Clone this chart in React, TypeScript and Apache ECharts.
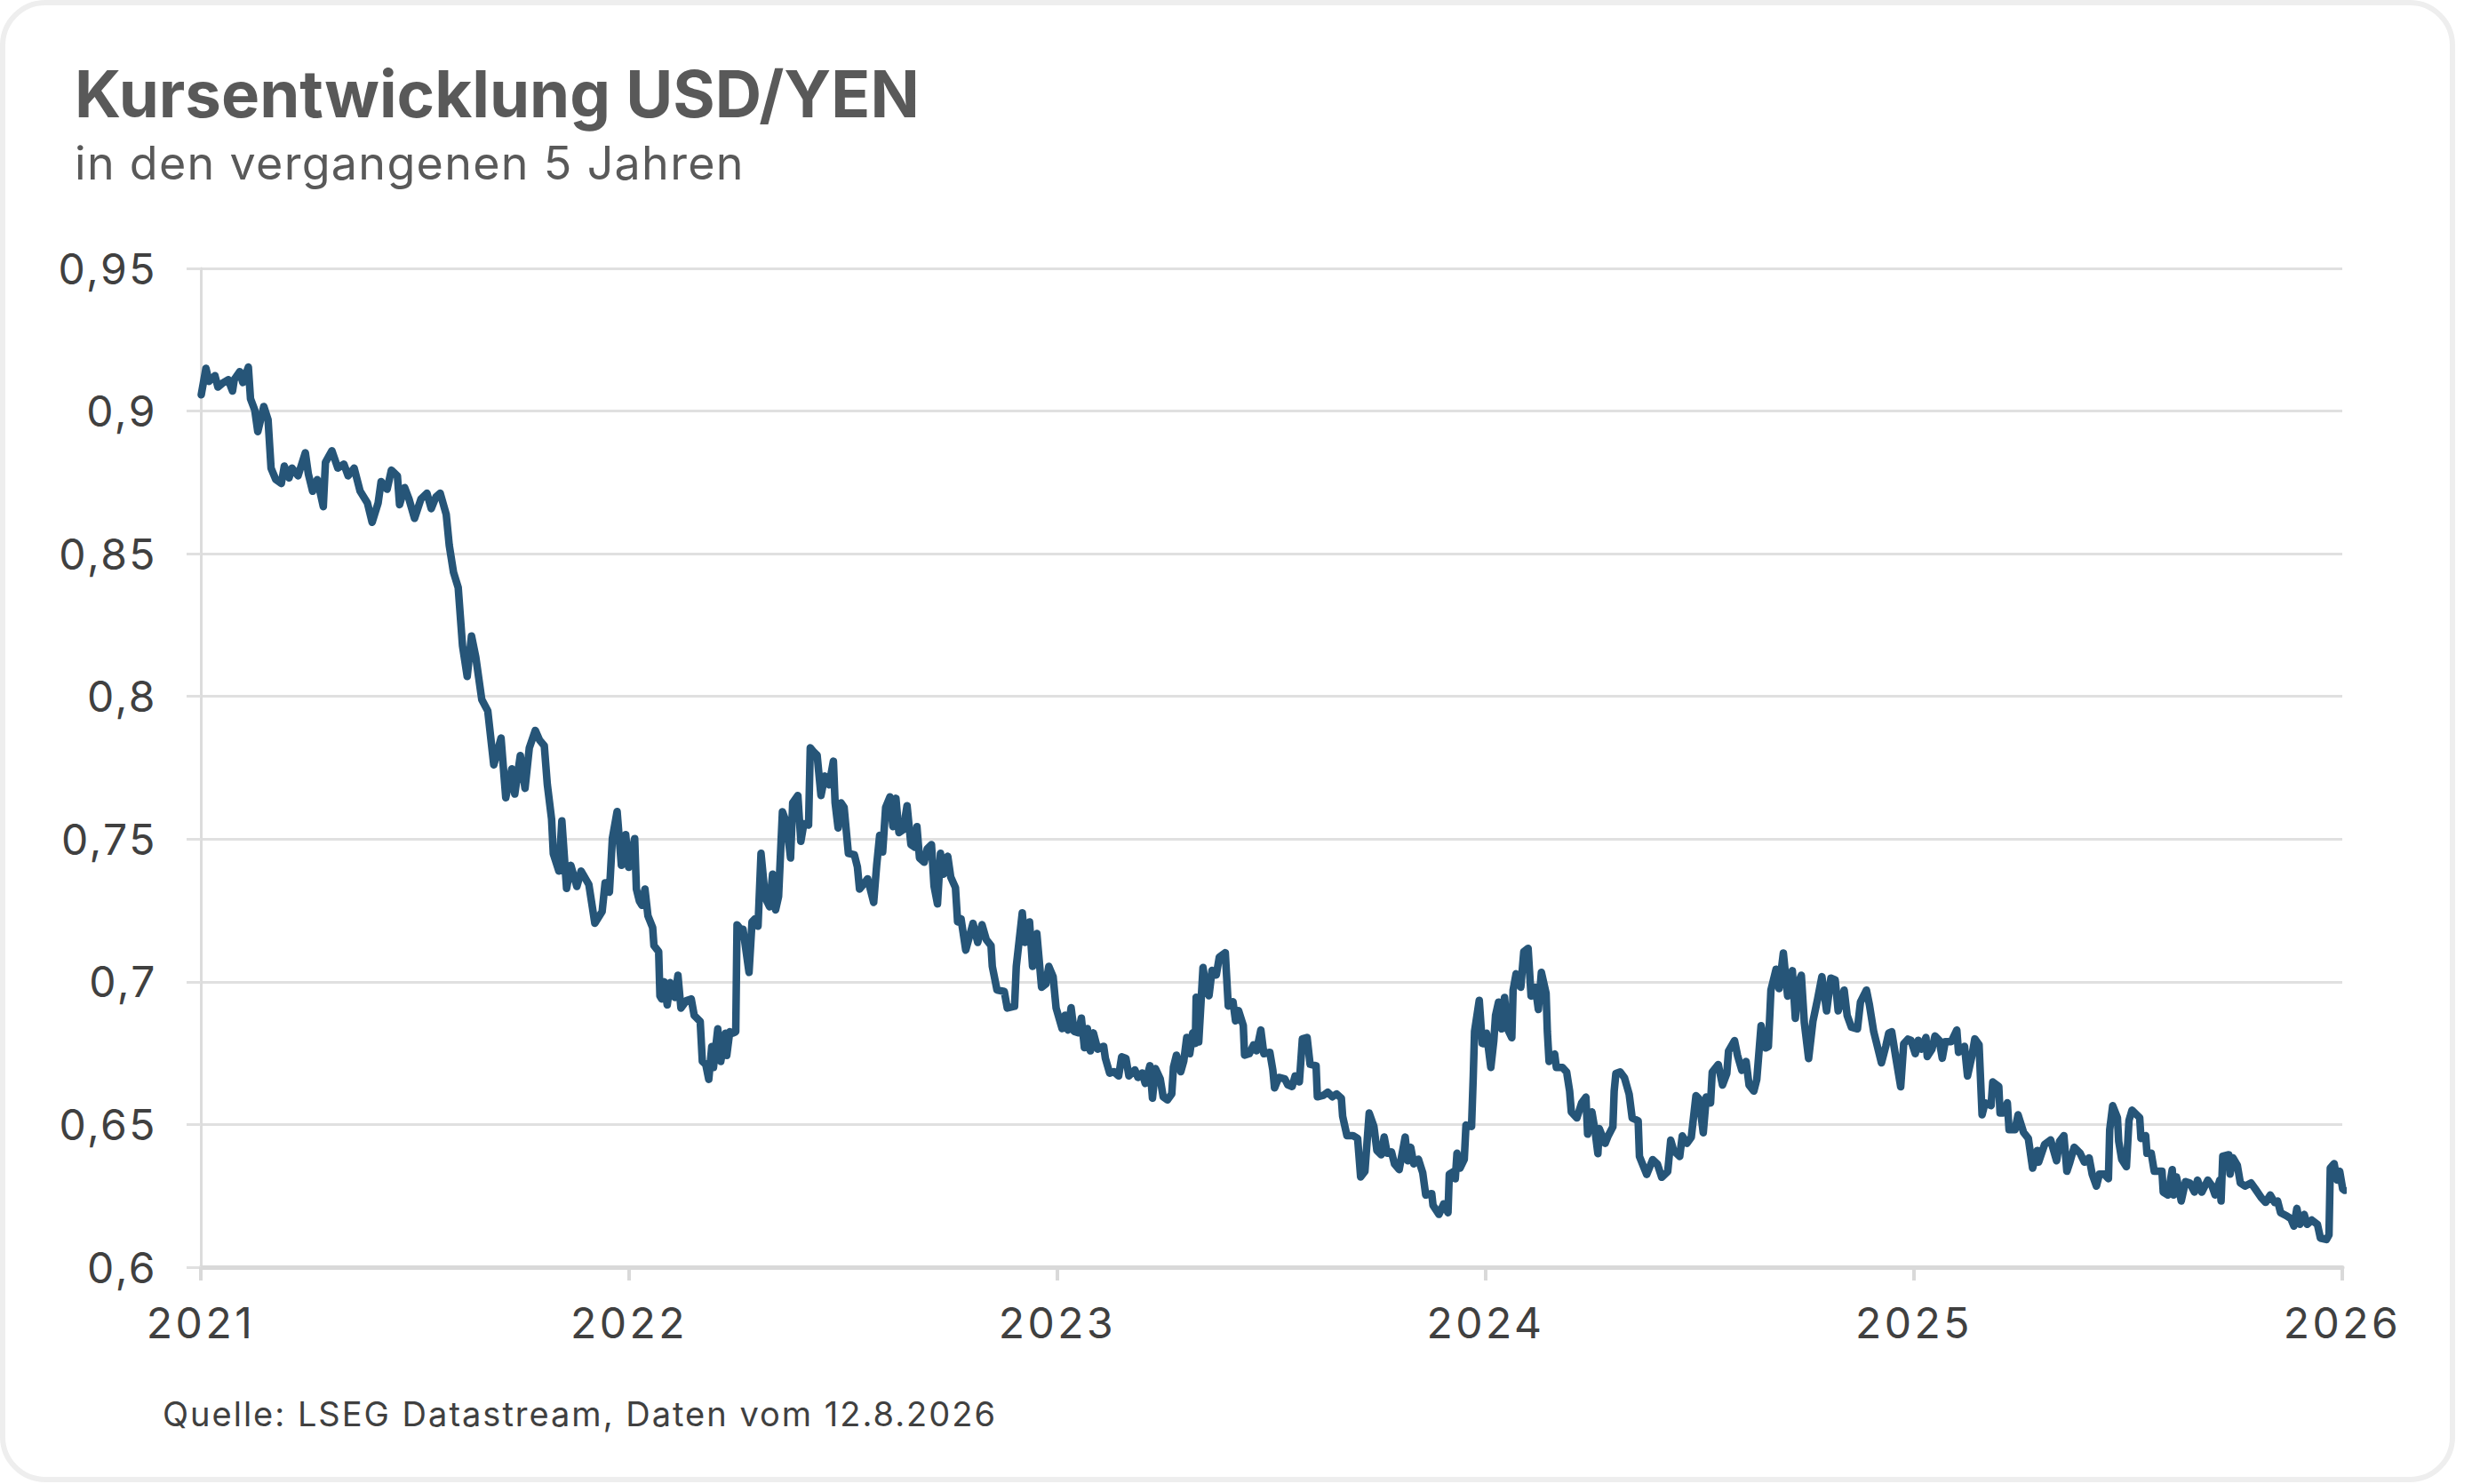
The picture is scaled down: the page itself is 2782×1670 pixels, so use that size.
import React, { useEffect, useRef } from "react";
import * as echarts from "echarts";

// Decimal-year offsets within each year and the USD/YEN index value at that time
const points2021: [number, number][] = [
  [0.001, 0.9057], [0.012, 0.915], [0.019, 0.9104], [0.033, 0.9124], [0.04, 0.9084], [0.05, 0.9097],
  [0.064, 0.911], [0.074, 0.907], [0.078, 0.911], [0.091, 0.9138], [0.098, 0.91], [0.111, 0.9154],
  [0.116, 0.9043], [0.126, 0.9003], [0.133, 0.8928], [0.147, 0.9016], [0.157, 0.897], [0.164, 0.88],
  [0.175, 0.876], [0.188, 0.8746], [0.195, 0.8807], [0.206, 0.8766], [0.213, 0.88], [0.227, 0.8773],
  [0.244, 0.8854], [0.251, 0.878], [0.261, 0.8719], [0.272, 0.876], [0.286, 0.8665], [0.291, 0.882],
  [0.306, 0.8861], [0.32, 0.88], [0.334, 0.8814], [0.344, 0.8773], [0.358, 0.88], [0.372, 0.8719],
  [0.389, 0.8678], [0.4, 0.861], [0.414, 0.8678], [0.421, 0.8753], [0.435, 0.8726], [0.445, 0.8793],
  [0.459, 0.8773], [0.464, 0.8672], [0.476, 0.8732], [0.486, 0.8692], [0.499, 0.8624], [0.514, 0.8692],
  [0.528, 0.8712], [0.538, 0.8658], [0.549, 0.8699], [0.559, 0.8712], [0.573, 0.8638], [0.58, 0.853],
  [0.59, 0.8435], [0.601, 0.8381], [0.611, 0.8178], [0.622, 0.807], [0.632, 0.8212], [0.642, 0.8138],
  [0.656, 0.7989], [0.67, 0.7949], [0.684, 0.776], [0.701, 0.7854], [0.712, 0.7645], [0.726, 0.7746],
  [0.733, 0.7658], [0.746, 0.7793], [0.757, 0.7678], [0.767, 0.782], [0.781, 0.7881], [0.791, 0.7847],
  [0.802, 0.7827], [0.809, 0.7692], [0.819, 0.757], [0.823, 0.7449], [0.836, 0.7388], [0.843, 0.7564],
  [0.854, 0.7327], [0.864, 0.7408], [0.878, 0.7334], [0.888, 0.7388], [0.906, 0.7341], [0.913, 0.7273],
  [0.92, 0.7205], [0.937, 0.7246], [0.944, 0.7347], [0.954, 0.7314], [0.961, 0.7503], [0.972, 0.7597],
  [0.982, 0.7408], [0.992, 0.7516], [0.999, 0.7401],
];

const points2022: [number, number][] = [
  [0.013, 0.7502], [0.017, 0.7325], [0.024, 0.7283], [0.03, 0.7268], [0.037, 0.7325], [0.044, 0.7231],
  [0.055, 0.719], [0.058, 0.7127], [0.069, 0.7106], [0.072, 0.695], [0.076, 0.694], [0.082, 0.7],
  [0.089, 0.6919], [0.096, 0.6997], [0.107, 0.6945], [0.114, 0.7023], [0.121, 0.6908], [0.134, 0.6934],
  [0.145, 0.694], [0.152, 0.6882], [0.166, 0.6861], [0.171, 0.6721], [0.179, 0.671], [0.186, 0.6658],
  [0.193, 0.6773], [0.197, 0.67], [0.207, 0.6835], [0.214, 0.6721], [0.225, 0.682], [0.228, 0.6742],
  [0.235, 0.6825], [0.242, 0.682], [0.249, 0.6825], [0.252, 0.72], [0.263, 0.7179], [0.266, 0.7184],
  [0.28, 0.7033], [0.287, 0.721], [0.294, 0.7221], [0.301, 0.7195], [0.308, 0.745], [0.318, 0.7294],
  [0.328, 0.7263], [0.335, 0.7377], [0.342, 0.7252], [0.349, 0.7299], [0.358, 0.7596], [0.367, 0.7559],
  [0.377, 0.7434], [0.382, 0.7627], [0.394, 0.7653], [0.401, 0.7492], [0.408, 0.7554], [0.419, 0.7549],
  [0.423, 0.782], [0.432, 0.7804], [0.439, 0.7794], [0.448, 0.7653], [0.457, 0.7721], [0.467, 0.769],
  [0.477, 0.7773], [0.481, 0.7627], [0.488, 0.7539], [0.495, 0.7627], [0.502, 0.7611], [0.512, 0.745],
  [0.526, 0.7445], [0.533, 0.7403], [0.538, 0.7325], [0.547, 0.7341], [0.557, 0.7361], [0.571, 0.7278],
  [0.578, 0.7408], [0.585, 0.7513], [0.592, 0.7455], [0.599, 0.7611], [0.609, 0.7648], [0.616, 0.7544],
  [0.623, 0.7643], [0.63, 0.7523], [0.64, 0.7533], [0.649, 0.7617], [0.658, 0.7481], [0.668, 0.7471],
  [0.672, 0.7544], [0.678, 0.7434], [0.689, 0.7419], [0.696, 0.7466], [0.706, 0.7481], [0.712, 0.7335],
  [0.72, 0.7273], [0.727, 0.745], [0.734, 0.7377], [0.744, 0.744], [0.751, 0.7367], [0.762, 0.733],
  [0.767, 0.721], [0.775, 0.7221], [0.786, 0.7111], [0.803, 0.7205], [0.814, 0.7138], [0.824, 0.72],
  [0.834, 0.7148], [0.845, 0.7127], [0.848, 0.7054], [0.859, 0.6971], [0.876, 0.6966], [0.883, 0.6908],
  [0.9, 0.6914], [0.904, 0.7054], [0.918, 0.7242], [0.924, 0.7138], [0.935, 0.721], [0.942, 0.7054],
  [0.952, 0.7169], [0.963, 0.6981], [0.973, 0.6992], [0.98, 0.7054], [0.99, 0.7018], [0.997, 0.6908],
];

const points2023: [number, number][] = [
  [0.011, 0.6836], [0.018, 0.6883], [0.025, 0.6831], [0.032, 0.6909], [0.039, 0.6826], [0.049, 0.6821],
  [0.056, 0.6873], [0.063, 0.6769], [0.07, 0.6836], [0.077, 0.6758], [0.084, 0.6821], [0.094, 0.6764],
  [0.108, 0.6774], [0.112, 0.6732], [0.122, 0.668], [0.132, 0.6685], [0.143, 0.667], [0.15, 0.6737],
  [0.16, 0.6732], [0.167, 0.667], [0.181, 0.6691], [0.188, 0.6665], [0.198, 0.668], [0.205, 0.6644],
  [0.216, 0.6706], [0.222, 0.6592], [0.229, 0.6696], [0.24, 0.666], [0.247, 0.6597], [0.257, 0.6586],
  [0.267, 0.6607], [0.271, 0.6701], [0.278, 0.6743], [0.288, 0.6685], [0.295, 0.6722], [0.302, 0.6805],
  [0.309, 0.6748], [0.316, 0.6821], [0.322, 0.6784], [0.324, 0.6946], [0.33, 0.6789], [0.34, 0.705],
  [0.347, 0.6982], [0.354, 0.6951], [0.361, 0.704], [0.371, 0.7024], [0.378, 0.7086], [0.392, 0.7102],
  [0.399, 0.6915], [0.41, 0.693], [0.416, 0.6863], [0.423, 0.6899], [0.434, 0.6847], [0.437, 0.6743],
  [0.448, 0.6748], [0.458, 0.6779], [0.465, 0.6758], [0.475, 0.6831], [0.482, 0.6748], [0.496, 0.6753],
  [0.503, 0.6691], [0.507, 0.6628], [0.517, 0.6665], [0.531, 0.666], [0.538, 0.6639], [0.548, 0.6633],
  [0.555, 0.667], [0.565, 0.6649], [0.572, 0.68], [0.583, 0.6805], [0.59, 0.6711], [0.604, 0.6706],
  [0.607, 0.6597], [0.621, 0.6602], [0.631, 0.6613], [0.642, 0.6597], [0.652, 0.6607], [0.663, 0.6592],
  [0.666, 0.6529], [0.676, 0.6461], [0.69, 0.6461], [0.701, 0.6451], [0.708, 0.6316], [0.718, 0.6336],
  [0.728, 0.654], [0.739, 0.6493], [0.746, 0.6409], [0.756, 0.6394], [0.763, 0.6456], [0.77, 0.6399],
  [0.78, 0.6404], [0.787, 0.6362], [0.798, 0.6342], [0.812, 0.6456], [0.818, 0.6373], [0.825, 0.642],
  [0.832, 0.6362], [0.843, 0.6378], [0.853, 0.6331], [0.86, 0.6253], [0.874, 0.6258], [0.877, 0.6217],
  [0.891, 0.6185], [0.902, 0.6222], [0.912, 0.6191], [0.915, 0.6326], [0.926, 0.6336], [0.929, 0.631],
  [0.933, 0.6399], [0.94, 0.6347], [0.95, 0.6378], [0.954, 0.6498], [0.967, 0.6493], [0.971, 0.667],
  [0.974, 0.6826], [0.985, 0.6935], [0.992, 0.6784],
];

const points2024: [number, number][] = [
  [-0.005, 0.6783], [0.002, 0.682], [0.012, 0.67], [0.019, 0.6794], [0.023, 0.6882], [0.03, 0.6929],
  [0.037, 0.6835], [0.044, 0.6945], [0.051, 0.6835], [0.061, 0.6804], [0.064, 0.6971], [0.071, 0.7028],
  [0.082, 0.6981], [0.089, 0.7106], [0.099, 0.7117], [0.106, 0.695], [0.116, 0.6981], [0.123, 0.6903],
  [0.13, 0.7033], [0.141, 0.696], [0.144, 0.6825], [0.148, 0.6721], [0.161, 0.6747], [0.165, 0.67],
  [0.179, 0.67], [0.189, 0.6684], [0.196, 0.6617], [0.2, 0.6544], [0.213, 0.6523], [0.224, 0.6575],
  [0.234, 0.6596], [0.238, 0.6466], [0.248, 0.6544], [0.255, 0.6481], [0.262, 0.6398], [0.265, 0.6486],
  [0.279, 0.6434], [0.286, 0.646], [0.297, 0.6492], [0.3, 0.6617], [0.304, 0.6679], [0.314, 0.6684],
  [0.324, 0.6664], [0.335, 0.6606], [0.342, 0.6523], [0.356, 0.6513], [0.359, 0.6388], [0.369, 0.6351],
  [0.376, 0.6325], [0.39, 0.6377], [0.401, 0.6361], [0.411, 0.6315], [0.425, 0.6335], [0.432, 0.6445],
  [0.439, 0.6408], [0.453, 0.6388], [0.459, 0.646], [0.47, 0.6434], [0.48, 0.6455], [0.491, 0.6601],
  [0.498, 0.659], [0.508, 0.6471], [0.515, 0.6596], [0.525, 0.6575], [0.529, 0.6684], [0.543, 0.671],
  [0.553, 0.6638], [0.563, 0.6679], [0.567, 0.6757], [0.581, 0.6794], [0.588, 0.6742], [0.598, 0.669],
  [0.608, 0.6721], [0.615, 0.6638], [0.626, 0.6617], [0.633, 0.6658], [0.643, 0.6846], [0.654, 0.6768],
  [0.66, 0.6773], [0.666, 0.6971], [0.678, 0.7044], [0.685, 0.6976], [0.695, 0.7101], [0.705, 0.695],
  [0.716, 0.7039], [0.723, 0.6872], [0.73, 0.6997], [0.737, 0.7023], [0.744, 0.6856], [0.754, 0.6731],
  [0.764, 0.6861], [0.775, 0.694], [0.785, 0.7018], [0.796, 0.6898], [0.806, 0.7013], [0.816, 0.7007],
  [0.823, 0.6898], [0.837, 0.6971], [0.844, 0.6882], [0.854, 0.6841], [0.868, 0.6835], [0.875, 0.6929],
  [0.889, 0.6971], [0.896, 0.6919], [0.906, 0.6825], [0.913, 0.6783], [0.924, 0.6716], [0.934, 0.6773],
  [0.941, 0.682], [0.948, 0.6825], [0.958, 0.6731], [0.969, 0.6632], [0.976, 0.6783], [0.986, 0.6799],
];

const points2025: [number, number][] = [
  [-0.007, 0.6795], [0.003, 0.6748], [0.01, 0.6795], [0.017, 0.6764], [0.028, 0.6805], [0.031, 0.6738],
  [0.042, 0.6764], [0.049, 0.681], [0.059, 0.6795], [0.066, 0.6732], [0.073, 0.679], [0.087, 0.679],
  [0.1, 0.6831], [0.104, 0.6753], [0.118, 0.6774], [0.125, 0.667], [0.135, 0.6738], [0.142, 0.68],
  [0.152, 0.6779], [0.159, 0.6534], [0.166, 0.6576], [0.18, 0.6566], [0.184, 0.6649], [0.198, 0.6633],
  [0.201, 0.654], [0.208, 0.654], [0.218, 0.6576], [0.222, 0.6482], [0.236, 0.6482], [0.243, 0.6534],
  [0.256, 0.6472], [0.267, 0.6451], [0.277, 0.6347], [0.288, 0.6409], [0.291, 0.6368], [0.305, 0.643],
  [0.319, 0.6446], [0.326, 0.6409], [0.333, 0.6373], [0.34, 0.6441], [0.35, 0.6461], [0.357, 0.6336],
  [0.364, 0.6368], [0.374, 0.642], [0.388, 0.6399], [0.398, 0.6368], [0.409, 0.6383], [0.416, 0.6326],
  [0.426, 0.6284], [0.433, 0.6326], [0.444, 0.6326], [0.454, 0.631], [0.457, 0.6482], [0.464, 0.6566],
  [0.475, 0.6524], [0.478, 0.6441], [0.485, 0.6378], [0.496, 0.6352], [0.502, 0.6514], [0.509, 0.655],
  [0.52, 0.6534], [0.527, 0.6524], [0.53, 0.6451], [0.541, 0.6461], [0.544, 0.6399], [0.554, 0.6399],
  [0.561, 0.6336], [0.579, 0.6336], [0.582, 0.6263], [0.593, 0.6253], [0.603, 0.6342], [0.606, 0.6253],
  [0.613, 0.6316], [0.624, 0.6232], [0.634, 0.63], [0.644, 0.6295], [0.655, 0.6263], [0.662, 0.6305],
  [0.672, 0.6263], [0.686, 0.6305], [0.696, 0.6284], [0.703, 0.6253], [0.714, 0.6305], [0.717, 0.6232],
  [0.721, 0.6389], [0.735, 0.6394], [0.738, 0.6326], [0.745, 0.6383], [0.755, 0.6357], [0.762, 0.6295],
  [0.773, 0.6284], [0.787, 0.6295], [0.797, 0.6274], [0.811, 0.6243], [0.821, 0.6227], [0.832, 0.6253],
  [0.842, 0.6227], [0.849, 0.6232], [0.856, 0.6191], [0.87, 0.618], [0.88, 0.617], [0.887, 0.6144],
  [0.894, 0.6206], [0.901, 0.615], [0.911, 0.6185], [0.918, 0.615], [0.929, 0.6165], [0.942, 0.615],
  [0.949, 0.6102], [0.963, 0.6097], [0.969, 0.6113], [0.972, 0.6347], [0.981, 0.6363], [0.988, 0.6305],
  [0.994, 0.6336], [1.001, 0.6274], [1.006, 0.6269],
];

const yearSeries: [number, [number, number][]][] = [
  [2021, points2021],
  [2022, points2022],
  [2023, points2023],
  [2024, points2024],
  [2025, points2025],
];

const xMin = 2021;
const xMax = 2026;
const yMin = 0.6;
const yMax = 0.95;
const yStep = 0.05;

const titleText = "Kursentwicklung USD/YEN";
const subtitleText = "in den vergangenen 5 Jahren";
const sourceText = "Quelle: LSEG Datastream, Daten vom 12.8.2026";

const FONT = "Inter, 'Noto Sans', sans-serif";

export default function App() {
  const ref = useRef<HTMLDivElement>(null);

  useEffect(() => {
    document.body.style.margin = "0";
    if (!ref.current) return;
    const chart = echarts.init(ref.current, null, { renderer: "svg" });

    const data: [number, number][] = [];
    yearSeries.forEach(([year, pts]) => {
      pts.forEach(([t, v]) => data.push([year + t, v]));
    });

    chart.setOption({
      animation: false,
      backgroundColor: "#ffffff",
      textStyle: { fontFamily: FONT },
      grid: { left: 226, right: 146, top: 302, bottom: 244, containLabel: false },
      xAxis: {
        type: "value",
        min: xMin,
        max: xMax,
        interval: 1,
        axisLine: { show: true, lineStyle: { color: "#d9d9d9", width: 5 } },
        axisTick: { show: true, length: 15, lineStyle: { color: "#d9d9d9", width: 4 } },
        splitLine: { show: false },
        axisLabel: {
          margin: 38,
          fontSize: 48,
          color: "#404040",
          fontFamily: FONT,
          formatter: (v: number) => String(Math.round(v)),
        },
      },
      yAxis: {
        type: "value",
        min: yMin,
        max: yMax,
        interval: yStep,
        axisLine: { show: true, lineStyle: { color: "#dcdcdc", width: 3 } },
        axisTick: { show: true, length: 16, lineStyle: { color: "#e0e0e0", width: 3 } },
        splitLine: { show: true, lineStyle: { color: "#e0e0e0", width: 3 } },
        axisLabel: {
          margin: 49,
          fontSize: 48,
          color: "#404040",
          fontFamily: FONT,
          formatter: (v: number) => {
            let s = v.toFixed(2);
            s = s.replace(/0+$/, "").replace(/\.$/, "");
            return s.replace(".", ",");
          },
        },
      },
      series: [
        {
          type: "line",
          data,
          showSymbol: false,
          symbol: "none",
          lineStyle: { color: "#265578", width: 8.5, join: "round", cap: "round" },
          z: 5,
        },
      ],
      graphic: [
        {
          type: "rect",
          shape: { x: 3, y: 3, width: 2757, height: 1662, r: 48 },
          style: { fill: "none", stroke: "#eeeeee", lineWidth: 6 },
          silent: true,
        },
        {
          type: "text",
          x: 84,
          y: 105,
          style: {
            text: titleText,
            font: `bold 72.5px ${FONT}`,
            fill: "#595959",
            textAlign: "left",
            verticalAlign: "middle",
          },
        },
        {
          type: "text",
          x: 84,
          y: 183,
          style: {
            text: subtitleText,
            font: `52px ${FONT}`,
            fill: "#595959",
            textAlign: "left",
            verticalAlign: "middle",
          },
        },
        {
          type: "text",
          x: 183,
          y: 1591,
          style: {
            text: sourceText,
            font: `38px ${FONT}`,
            fill: "#404040",
            textAlign: "left",
            verticalAlign: "middle",
          },
        },
      ],
    });

    const applySpacing = () => {
      const root = ref.current;
      if (!root) return;
      root.querySelectorAll("text").forEach((el) => {
        const s = (el.textContent || "").trim();
        let sp = "";
        if (/^\d{4}$/.test(s)) sp = "3.5px";
        else if (/^0(,\d+)?$/.test(s)) sp = "2.5px";
        else if (s === sourceText) sp = "2px";
        else if (s === subtitleText) sp = "1.3px";
        if (sp) el.setAttribute("letter-spacing", sp);
      });
    };
    applySpacing();
    chart.on("finished", applySpacing);
    const t1 = window.setTimeout(applySpacing, 30);
    const t2 = window.setTimeout(applySpacing, 200);

    return () => {
      window.clearTimeout(t1);
      window.clearTimeout(t2);
      chart.dispose();
    };
  }, []);

  return <div ref={ref} style={{ width: 2782, height: 1670 }} />;
}
